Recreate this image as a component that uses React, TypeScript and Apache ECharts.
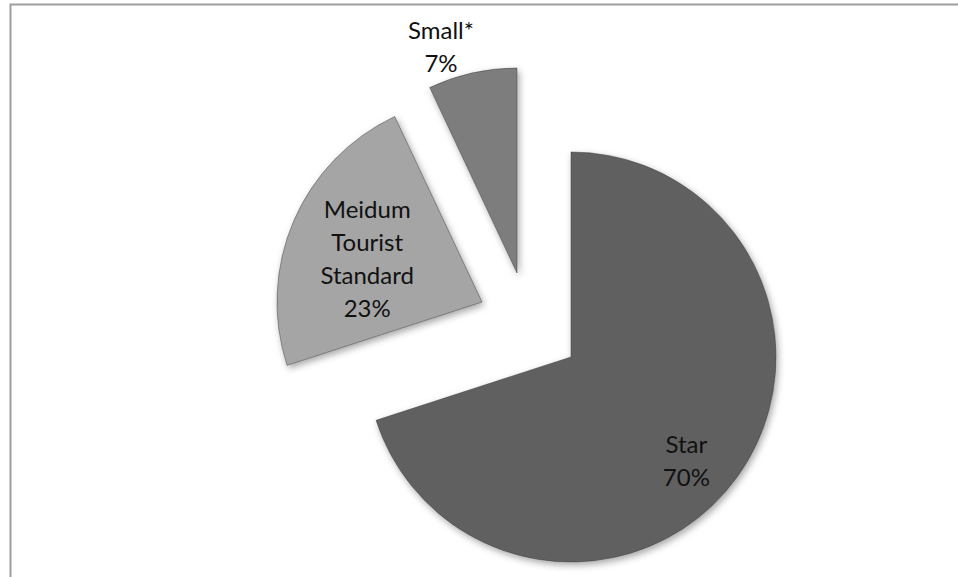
import React, { useEffect, useRef } from "react";
import * as echarts from "echarts";

const categories = ["Star", "Meidum\nTourist\nStandard", "Small*"];
const values = [70, 23, 7];
const sliceColors = ["#616161", "#a5a5a5", "#7d7d7d"];
// exploded slice vertices (pixel centres of each pie series)
const sliceCenters: [number, number][] = [
  [571, 357],
  [482, 302],
  [517, 273],
];
const labelShift: [number, number][] = [
  [30, 41],
  [-18, -2],
  [-53, -124],
];

export default function App() {
  const ref = useRef<HTMLDivElement>(null);
  useEffect(() => {
    if (!ref.current) return;
    const chart = echarts.init(ref.current, undefined, { renderer: "svg" });
    const total = values.reduce((a, b) => a + b, 0);
    const series = categories.map((_, i) => ({
      type: "pie",
      center: sliceCenters[i],
      radius: [0, 205],
      startAngle: 90,
      clockwise: true,
      silent: true,
      avoidLabelOverlap: false,
      emphasis: { disabled: true },
      labelLine: { show: false },
      labelLayout: { dx: labelShift[i][0], dy: labelShift[i][1] },
      label: {
        position: "inside",
        fontFamily: "Lato, Carlito, 'Open Sans', sans-serif",
        fontSize: 24,
        lineHeight: 33,
        color: "#111",
        align: "center",
        formatter: (p: any) => `${p.name}\n${Math.round((p.value / total) * 100)}%`,
      },
      data: categories.map((c, j) => ({
        name: c,
        value: values[j],
        label: { show: j === i },
        itemStyle:
          j === i
            ? {
                color: sliceColors[j],
                borderColor: "rgba(60,60,60,0.6)",
                borderWidth: 0.8,
                shadowBlur: 7,
                shadowColor: "rgba(0,0,0,0.35)",
                shadowOffsetX: 2,
                shadowOffsetY: 3,
              }
            : { color: "rgba(0,0,0,0)", borderWidth: 0 },
      })),
    }));
    chart.setOption({
      animation: false,
      backgroundColor: "#ffffff",
      graphic: [
        {
          type: "rect",
          silent: true,
          shape: { x: 10.5, y: 4.5, width: 2000, height: 2000 },
          style: { fill: "none", stroke: "#9d9d9d", lineWidth: 2 },
        },
      ],
      series,
    });
    return () => chart.dispose();
  }, []);
  return (
    <div
      ref={ref}
      style={{ position: "fixed", left: 0, top: 0, width: 958, height: 577 }}
    />
  );
}
